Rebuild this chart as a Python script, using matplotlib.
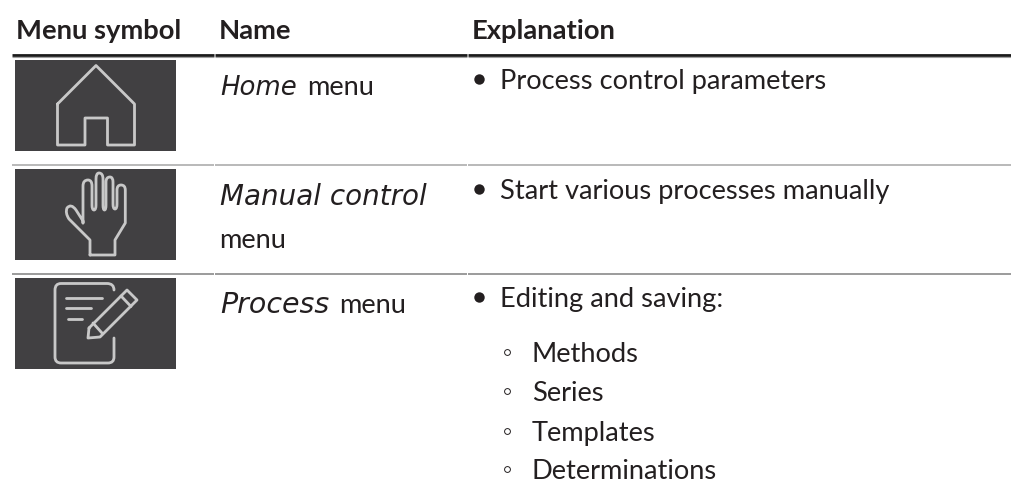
import matplotlib
matplotlib.use('Agg')
import matplotlib.pyplot as plt
from matplotlib.patches import Rectangle, PathPatch
from matplotlib.path import Path

# table content
headers = ['Menu symbol', 'Name', 'Explanation']
names_italic = ['Home', 'Manual control', 'Process']
main_bullets = ['Process control parameters', 'Start various processes manually', 'Editing and saving:']
sub_bullets = ['Methods', 'Series', 'Templates', 'Determinations']

# layout in pixels
W, H = 1011, 487
header_x = [16, 219, 472]
header_base = 39
row_lines = [(164.5, '#a6a6a6'), (273.5, '#808080')]
icon_tops = [60, 169, 278]
name_base = [95, 205, 313]
name_sizes = [18.7, 20, 20.5]
name_menu_x = [307, None, 339]
bullet_base = [89, 199, 307]
sub_base = [362, 401, 441, 479]

TEXT = '#231f20'
ICON_BG = '#414042'
ICON_FG = '#c8c8c8'
SANS = 'Lato'
ITAL = 'DejaVu Sans'
BODY = 19.6

fig = plt.figure(figsize=(W / 100, H / 100), dpi=100)
ax = fig.add_axes([0, 0, 1, 1])
ax.set_xlim(0, W)
ax.set_ylim(H, 0)
ax.axis('off')


def stroke(ox, oy, pts, codes=None, lw=2.8):
    verts = [(ox + x, oy + y) for x, y in pts]
    if codes is None:
        codes = [Path.MOVETO] + [Path.LINETO] * (len(verts) - 1)
    ax.add_patch(PathPatch(Path(verts, codes), fc='none', ec=ICON_FG, lw=lw * 72 / 100,
                           joinstyle='round', capstyle='round'))


def smooth(ox, oy, pts):
    # pts: (x, y, is_control) in the icon's own pixels
    codes = []
    for i, (x, y, c) in enumerate(pts):
        if i == 0:
            codes.append(Path.MOVETO)
        else:
            codes.append(Path.CURVE3 if c or pts[i - 1][2] else Path.LINETO)
    stroke(ox, oy, [(p[0], p[1]) for p in pts], codes)


def house(ox, oy):
    stroke(ox, oy, [(42.5, 44), (81, 5.5), (119.5, 44), (119.5, 85), (92.5, 85), (92.5, 58),
                    (70, 58), (70, 85), (42.5, 85), (42.5, 44)])


def hand(ox, oy):
    # outline from wrist, round the thumb and over the four fingers
    smooth(ox, oy, [(75, 86, 0), (75, 71, 0), (54, 50, 0), (50, 44, 1), (52, 39, 0), (56, 34, 1), (61, 41, 0),
                    (68, 52, 0), (68, 54, 0), (68, 17, 0), (68, 11, 1), (73, 11, 0), (77, 11, 1), (77, 17, 0),
                    (77, 36, 0), (77, 41, 1), (79, 41, 0), (81, 41, 1), (81, 36, 0), (81, 10, 0),
                    (81, 4, 1), (84, 4, 0), (88, 4, 1), (88, 10, 0), (88, 36, 0), (88, 41, 1), (89.5, 41, 0),
                    (91, 41, 1), (91, 36, 0), (91, 13, 0), (91, 8, 1), (95, 8, 0), (98, 8, 1), (98, 13, 0),
                    (98, 35, 0), (98, 40, 1), (100, 40, 0), (102, 40, 1), (102, 35, 0), (102, 21, 0),
                    (102, 16, 1), (106, 16, 0), (110.3, 16, 1), (110.3, 21, 0), (110.3, 54, 0),
                    (100, 71, 0), (100, 86, 0), (75, 86, 0)])


def pad(ox, oy):
    # sheet with gap for the pencil
    smooth(ox, oy, [(99, 12, 0), (99, 5.5, 1), (92, 5.5, 0), (46, 5.5, 0), (40, 5.5, 1), (40, 12, 0), (40, 79, 0),
                    (40, 85, 1), (46, 85, 0), (93, 85, 0), (99, 85, 1), (99, 79, 0), (99, 60, 0)])
    stroke(ox, oy, [(51, 19.5), (87, 19.5)])
    stroke(ox, oy, [(51, 29.5), (76, 29.5)])
    stroke(ox, oy, [(53, 40.5), (67, 40.5)])
    # pencil
    stroke(ox, oy, [(74, 50), (112, 12), (122, 22), (85, 59), (73, 60), (74, 50)])
    stroke(ox, oy, [(106, 18), (116, 28.5)])
    stroke(ox, oy, [(78, 45), (87, 55)])


for top, draw in zip(icon_tops, [house, hand, pad]):
    ax.add_patch(Rectangle((15, top), 161, 91, fc=ICON_BG, ec='none'))
    draw(15, top)

# rules
for seg in [(12, 214), (215, 467), (468, 1011)]:
    ax.plot(seg, [55, 55], color='#1a1a1a', lw=2.0, solid_capstyle='butt')
    ax.plot(seg, [56.7, 56.7], color='#a0a0a0', lw=0.8, solid_capstyle='butt')
    for y, col in row_lines:
        ax.plot(seg, [y, y], color=col, lw=1.1, solid_capstyle='butt')

# header
for x, label in zip(header_x, headers):
    ax.text(x, header_base, label, fontsize=19.7, fontweight='bold', family=SANS, color=TEXT, va='baseline')

# name column
for label, y, mx, size in zip(names_italic, name_base, name_menu_x, name_sizes):
    ax.text(220, y, label, fontsize=size, style='italic', family=ITAL, color=TEXT, va='baseline')
    if mx is not None:
        ax.text(mx, y, 'menu', fontsize=BODY, family=SANS, color=TEXT, va='baseline')
ax.text(219, 248, 'menu', fontsize=BODY, family=SANS, color=TEXT, va='baseline')

# explanation column
for label, y in zip(main_bullets, bullet_base):
    ax.plot([479], [y - 10], 'o', color=TEXT, ms=7.5, mew=0)
    ax.text(500, y, label, fontsize=BODY, family=SANS, color=TEXT, va='baseline')
for label, y in zip(sub_bullets, sub_base):
    ax.plot([507], [y - 10], 'o', mfc='none', mec=TEXT, ms=4.2, mew=0.7)
    ax.text(532, y, label, fontsize=BODY, family=SANS, color=TEXT, va='baseline')

fig.savefig('out.png', dpi=100, facecolor='white')
